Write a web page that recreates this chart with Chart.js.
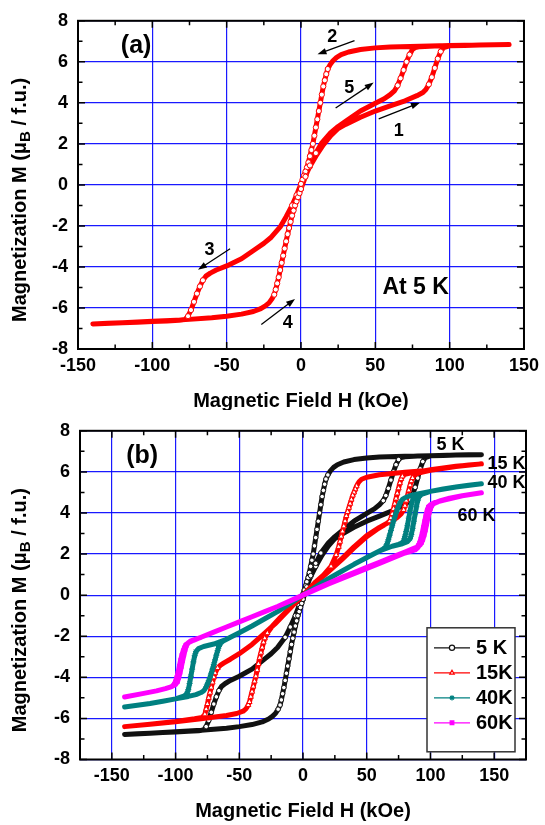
<!DOCTYPE html>
<html>
<head>
<meta charset="utf-8">
<script src="https://cdn.jsdelivr.net/npm/chart.js@4.4.1/dist/chart.umd.min.js"></script>
<style>
  body { margin: 0; background: #fff; }
  canvas { display: block; }
</style>
</head>
<body>
<canvas id="chartA" width="545" height="410"></canvas>
<canvas id="chartB" width="545" height="415"></canvas>
<script>
// tick labels
const xTicks = [-150, -100, -50, 0, 50, 100, 150];
const yTicks = [-8, -6, -4, -2, 0, 2, 4, 6, 8];
const seriesNames = ["5 K", "15K", "40K", "60K"];

// 5 K loop: branch 1 (virgin), 2, 3, 4, 5 -- same data in both panels
const h5K = [
  0, 3, 6, 10, 15, 20, 25, 30, 40, 50, 60, 70, 78, 82, 84, 86, 88, 90, 92, 94, 96, 100, 110, 120, 130, 140,
  140, 120, 100, 80, 60, 50, 40, 32, 27, 24, 21.5, 19.5, 18, 17, 16, 15, 14, 13, 12, 11, 10, 9, 8, 7, 6, 5, 4, 3, 2, 1, 0,
  0, -3, -6, -10, -14, -20, -25, -30, -40, -50, -57, -61, -64, -66, -68, -70, -72, -74, -76, -78, -82, -90, -100, -110, -120, -130, -140,
  -140, -120, -100, -80, -60, -50, -40, -32, -27, -24, -21.5, -19.5, -18, -17, -16, -15, -14, -13, -12, -11, -10, -9, -8, -7, -6, -5, -4, -3, -2, -1, 0,
  0, 3, 6, 10, 14, 20, 25, 30, 40, 50, 56, 60, 63, 65, 67, 69, 71, 73, 75, 77, 80, 90, 100, 120, 140
];
const m5K = [
  0, 0.45, 0.9, 1.4, 1.95, 2.4, 2.75, 2.95, 3.3, 3.6, 3.85, 4.1, 4.35, 4.5, 4.65, 4.9, 5.25, 5.7, 6.15, 6.5, 6.7, 6.78, 6.8, 6.82, 6.83, 6.84,
  6.84, 6.82, 6.79, 6.76, 6.72, 6.68, 6.6, 6.48, 6.35, 6.22, 6.05, 5.85, 5.65, 5.4, 5.1, 4.8, 4.4, 4.0, 3.6, 3.2, 2.8, 2.4, 2.0, 1.7, 1.4, 1.1, 0.85, 0.65, 0.45, 0.25, 0.05,
  0.05, -0.5, -1.0, -1.55, -2.05, -2.55, -2.85, -3.1, -3.6, -3.95, -4.15, -4.3, -4.45, -4.65, -4.95, -5.3, -5.7, -6.1, -6.4, -6.56, -6.6, -6.63, -6.66, -6.69, -6.72, -6.75, -6.78,
  -6.78, -6.72, -6.65, -6.58, -6.48, -6.4, -6.3, -6.17, -6.03, -5.9, -5.75, -5.55, -5.35, -5.1, -4.8, -4.5, -4.15, -3.8, -3.45, -3.1, -2.75, -2.4, -2.1, -1.8, -1.5, -1.25, -1.0, -0.8, -0.6, -0.4, -0.2,
  -0.2, 0.4, 0.95, 1.55, 2.05, 2.55, 2.85, 3.1, 3.6, 3.98, 4.2, 4.4, 4.6, 4.85, 5.2, 5.6, 6.0, 6.35, 6.6, 6.7, 6.74, 6.77, 6.79, 6.82, 6.84
];

// 15 K loop
const h15K = [
  0, 10, 20, 30, 40, 50, 60, 66, 70, 74, 77, 79, 80, 81, 82, 83, 84, 85, 86, 87, 89, 93, 100, 110, 120, 130, 140,
  140, 120, 100, 80, 60, 50, 46, 44, 43, 42, 41, 40, 39, 38, 37, 36, 35, 34, 33, 32, 31, 30, 29, 28, 26, 22, 15, 8, 0,
  0, -8, -15, -22, -30, -40, -50, -57, -62, -65, -67, -69, -70, -71, -72, -73, -74, -75, -76, -77, -79, -85, -100, -120, -140,
  -140, -120, -100, -80, -60, -52, -47, -45, -44, -43, -42, -41, -40, -39, -38, -37, -36, -35, -34, -33, -32, -31, -30, -28, -24, -18, -10, 0,
  0, 10, 20, 30, 40, 50, 58, 63, 66, 68, 69, 70, 71, 72, 73, 74, 75, 76, 77, 78, 80, 85, 90, 100, 120, 140
];
const m15K = [
  0, 0.65, 1.2, 1.75, 2.35, 2.9, 3.3, 3.5, 3.62, 3.78, 3.95, 4.15, 4.35, 4.6, 4.85, 5.1, 5.35, 5.55, 5.7, 5.8, 5.9, 5.98, 6.08, 6.18, 6.26, 6.33, 6.39,
  6.39, 6.26, 6.08, 5.98, 5.86, 5.74, 5.64, 5.52, 5.42, 5.3, 5.15, 5.0, 4.85, 4.65, 4.45, 4.25, 4.05, 3.85, 3.6, 3.35, 3.1, 2.85, 2.6, 2.35, 1.95, 1.4, 0.9, 0.5, 0,
  0, -0.5, -0.95, -1.4, -1.85, -2.4, -2.85, -3.12, -3.3, -3.42, -3.55, -3.8, -4.0, -4.25, -4.5, -4.75, -5.0, -5.3, -5.55, -5.8, -5.95, -6.02, -6.15, -6.28, -6.4,
  -6.4, -6.28, -6.16, -6.02, -5.86, -5.76, -5.65, -5.55, -5.46, -5.35, -5.2, -4.95, -4.7, -4.45, -4.2, -3.95, -3.65, -3.35, -3.05, -2.8, -2.55, -2.3, -2.1, -1.85, -1.5, -1.1, -0.6, 0,
  0, 0.6, 1.15, 1.7, 2.3, 2.85, 3.2, 3.38, 3.5, 3.6, 3.75, 3.95, 4.2, 4.45, 4.7, 4.95, 5.2, 5.45, 5.65, 5.78, 5.88, 5.95, 6.0, 6.1, 6.27, 6.39
];

// 40 K loop
const h40K = [
  0, 10, 20, 30, 40, 50, 60, 70, 78, 82, 84, 85, 86, 87, 88, 89, 90, 91, 93, 100, 110, 120, 130, 140,
  140, 120, 100, 90, 84, 80, 78, 77, 76, 75, 74, 73, 72, 71, 70, 69, 68, 67, 66, 65, 63, 60, 50, 40, 30, 20, 10, 0,
  0, -10, -20, -30, -40, -50, -60, -70, -78, -82, -84, -85, -86, -87, -88, -89, -90, -91, -93, -100, -110, -120, -130, -140,
  -140, -120, -100, -90, -84, -80, -78, -77, -76, -75, -74, -73, -72, -71, -70, -69, -68, -67, -66, -65, -63, -60, -50, -40, -30, -20, -10, 0,
  0, 20, 40, 60, 70, 75, 78, 79, 80, 81, 82, 83, 84, 85, 86, 87, 89, 93, 100, 120, 140
];
const m40K = [
  0, 0.4, 0.8, 1.15, 1.5, 1.83, 2.15, 2.38, 2.5, 2.6, 2.75, 2.95, 3.25, 3.6, 3.95, 4.3, 4.6, 4.78, 4.9, 5.05, 5.17, 5.26, 5.35, 5.42,
  5.42, 5.26, 5.05, 4.93, 4.84, 4.74, 4.66, 4.58, 4.47, 4.33, 4.17, 4.0, 3.8, 3.6, 3.38, 3.15, 2.92, 2.7, 2.5, 2.36, 2.25, 2.15, 1.83, 1.5, 1.15, 0.8, 0.4, 0,
  0, -0.4, -0.8, -1.15, -1.5, -1.83, -2.15, -2.38, -2.5, -2.6, -2.75, -2.95, -3.25, -3.6, -3.95, -4.3, -4.6, -4.78, -4.9, -5.05, -5.17, -5.27, -5.36, -5.44,
  -5.44, -5.27, -5.05, -4.93, -4.84, -4.74, -4.66, -4.58, -4.47, -4.33, -4.17, -4.0, -3.8, -3.6, -3.38, -3.15, -2.92, -2.7, -2.5, -2.36, -2.25, -2.15, -1.83, -1.5, -1.15, -0.8, -0.4, 0,
  0, 0.8, 1.5, 2.15, 2.38, 2.47, 2.55, 2.65, 2.85, 3.1, 3.4, 3.75, 4.1, 4.4, 4.62, 4.76, 4.86, 4.93, 5.05, 5.26, 5.42
];

// 60 K loop
const h60K = [
  0, 10, 20, 30, 40, 50, 60, 70, 80, 86, 90, 92, 93, 94, 95, 96, 97, 98, 99, 100, 101, 103, 108, 115, 125, 140,
  140, 125, 115, 108, 103, 100, 98.5, 97.5, 96.5, 95.5, 94.5, 93.5, 92.5, 91.5, 90, 88, 80, 70, 60, 50, 40, 30, 20, 10, 0,
  0, -10, -20, -30, -40, -50, -60, -70, -80, -86, -90, -92, -93, -94, -95, -96, -97, -98, -99, -100, -101, -103, -108, -115, -125, -140,
  -140, -125, -115, -108, -103, -100, -98.5, -97.5, -96.5, -95.5, -94.5, -93.5, -92.5, -91.5, -90, -88, -80, -70, -60, -50, -40, -30, -20, -10, 0,
  0, 20, 40, 60, 80, 86, 89, 90.5, 91.5, 92.5, 93.5, 94.5, 95.5, 96.5, 97.5, 98.5, 100, 103, 110, 125, 140
];
const m60K = [
  0, 0.3, 0.58, 0.85, 1.1, 1.35, 1.6, 1.85, 2.1, 2.25, 2.35, 2.45, 2.55, 2.7, 2.9, 3.15, 3.45, 3.75, 4.0, 4.2, 4.35, 4.47, 4.6, 4.72, 4.84, 4.98,
  4.98, 4.84, 4.72, 4.6, 4.48, 4.38, 4.25, 4.05, 3.8, 3.5, 3.2, 2.9, 2.65, 2.45, 2.3, 2.2, 2.05, 1.8, 1.55, 1.3, 1.05, 0.8, 0.55, 0.28, 0,
  0, -0.28, -0.55, -0.8, -1.05, -1.3, -1.55, -1.8, -2.05, -2.2, -2.32, -2.42, -2.55, -2.7, -2.9, -3.15, -3.45, -3.75, -4.0, -4.2, -4.33, -4.45, -4.55, -4.66, -4.78, -4.96,
  -4.96, -4.78, -4.66, -4.55, -4.45, -4.35, -4.22, -4.02, -3.78, -3.5, -3.2, -2.92, -2.66, -2.46, -2.32, -2.22, -2.05, -1.8, -1.55, -1.3, -1.05, -0.8, -0.55, -0.28, 0,
  0, 0.55, 1.05, 1.55, 2.05, 2.22, 2.32, 2.42, 2.55, 2.75, 3.0, 3.3, 3.6, 3.9, 4.15, 4.3, 4.4, 4.5, 4.62, 4.84, 4.98
];

const FONT = '"Liberation Sans", Arial, sans-serif';
const toPoints = (h, m) => h.map((x, i) => ({ x: x, y: m[i] }));

// markers only where the curve is steep, where the reference shows single symbols
function steepRadius(r) {
  return (ctx) => {
    const d = ctx.dataset.data, i = ctx.dataIndex, ch = ctx.chart;
    const sx = ch.scales.x, sy = ch.scales.y;
    const p = d[i];
    let steep = false;
    [d[i - 1], d[i + 1]].forEach((q) => {
      if (!q) return;
      const dx = Math.abs(sx.getPixelForValue(q.x) - sx.getPixelForValue(p.x));
      const dy = Math.abs(sy.getPixelForValue(q.y) - sy.getPixelForValue(p.y));
      if (dy > 2 && dy > 2 * dx) steep = true;
    });
    return steep ? r : 0;
  };
}

function loopDataset(label, h, m, color, style, fill, r, order) {
  return {
    label: label,
    data: toPoints(h, m),
    showLine: true,
    borderColor: color,
    borderWidth: 5,
    borderJoinStyle: "round",
    borderCapStyle: "round",
    pointStyle: style,
    pointRadius: steepRadius(r),
    pointBorderColor: color,
    pointBackgroundColor: fill,
    pointBorderWidth: 1,
    order: order,
  };
}

function scalesFor(xmin, xmax, yWidth, xHeight) {
  const tickFont = { family: FONT, size: 18, weight: "bold" };
  const grid = { color: "rgba(0,0,255,0.9)", lineWidth: 1.2, drawTicks: false };
  return {
    x: {
      type: "linear", min: xmin, max: xmax,
      afterBuildTicks: (s) => { s.ticks = xTicks.map((v) => ({ value: v })); },
      afterFit: (s) => { s.height = xHeight; },
      grid: grid, border: { display: false },
      ticks: { color: "#000", font: tickFont, padding: 6, maxRotation: 0, autoSkip: false },
    },
    y: {
      type: "linear", min: -8, max: 8,
      afterBuildTicks: (s) => { s.ticks = yTicks.map((v) => ({ value: v })); },
      afterFit: (s) => { s.width = yWidth; },
      grid: grid, border: { display: false },
      ticks: { color: "#000", font: tickFont, padding: 10, autoSkip: false },
    },
  };
}

// frame, inward ticks and axis titles
const framePlugin = {
  id: "frame",
  afterDraw(chart) {
    const { ctx, chartArea: a, scales: { x, y } } = chart;
    ctx.save();
    ctx.strokeStyle = "#000";
    ctx.lineWidth = 1.5;
    ctx.beginPath();
    for (let v = Math.ceil(x.min / 25) * 25; v <= x.max; v += 25) {
      const px = x.getPixelForValue(v);
      const len = v % 50 === 0 ? 7 : 4.5;
      ctx.moveTo(px, a.bottom); ctx.lineTo(px, a.bottom - len);
      ctx.moveTo(px, a.top); ctx.lineTo(px, a.top + len);
    }
    for (let v = -8; v <= 8; v += 1) {
      const py = y.getPixelForValue(v);
      const len = v % 2 === 0 ? 7 : 4.5;
      ctx.moveTo(a.left, py); ctx.lineTo(a.left + len, py);
      ctx.moveTo(a.right, py); ctx.lineTo(a.right - len, py);
    }
    ctx.stroke();
    ctx.lineWidth = 2;
    ctx.strokeRect(a.left, a.top, a.right - a.left, a.bottom - a.top);

    ctx.fillStyle = "#000";
    ctx.font = "bold 20px " + FONT;
    ctx.textAlign = "center";
    ctx.textBaseline = "alphabetic";
    ctx.fillText("Magnetic Field H (kOe)", (a.left + a.right) / 2, 407);

    // y title with subscript B
    ctx.translate(20, (a.top + a.bottom) / 2 + 15);
    ctx.rotate(-Math.PI / 2);
    ctx.textAlign = "left";
    ctx.textBaseline = "middle";
    const p1 = "Magnetization M (\u03bc", p2 = "B", p3 = " / f.u.)";
    const big = "bold 20px " + FONT, small = "bold 15px " + FONT;
    ctx.font = big;
    const w1 = ctx.measureText(p1).width, w3 = ctx.measureText(p3).width;
    ctx.font = small;
    const w2 = ctx.measureText(p2).width;
    const x0 = -(w1 + w2 + w3) / 2;
    ctx.font = big; ctx.fillText(p1, x0, 0);
    ctx.font = small; ctx.fillText(p2, x0 + w1, 6);
    ctx.font = big; ctx.fillText(p3, x0 + w1 + w2, 0);
    ctx.restore();
  },
};

function label(chart, text, hx, my, size) {
  const { ctx, scales: { x, y } } = chart;
  ctx.font = "bold " + size + "px " + FONT;
  ctx.textAlign = "center";
  ctx.textBaseline = "middle";
  ctx.fillStyle = "#000";
  ctx.fillText(text, x.getPixelForValue(hx), y.getPixelForValue(my));
}

function arrow(chart, h0, m0, h1, m1) {
  const { ctx, scales: { x, y } } = chart;
  const x0 = x.getPixelForValue(h0), y0 = y.getPixelForValue(m0);
  const x1 = x.getPixelForValue(h1), y1 = y.getPixelForValue(m1);
  const ang = Math.atan2(y1 - y0, x1 - x0);
  ctx.strokeStyle = "#000";
  ctx.fillStyle = "#000";
  ctx.lineWidth = 1.3;
  ctx.beginPath();
  ctx.moveTo(x0, y0);
  ctx.lineTo(x1 - 6 * Math.cos(ang), y1 - 6 * Math.sin(ang));
  ctx.stroke();
  ctx.beginPath();
  ctx.moveTo(x1, y1);
  ctx.lineTo(x1 - 9 * Math.cos(ang) + 3.2 * Math.sin(ang), y1 - 9 * Math.sin(ang) - 3.2 * Math.cos(ang));
  ctx.lineTo(x1 - 9 * Math.cos(ang) - 3.2 * Math.sin(ang), y1 - 9 * Math.sin(ang) + 3.2 * Math.cos(ang));
  ctx.closePath();
  ctx.fill();
}

const notesA = {
  id: "notesA",
  afterDraw(chart) {
    const ctx = chart.ctx;
    ctx.save();
    label(chart, "(a)", -110.9, 6.76, 25);
    label(chart, "At 5 K", 77.1, -5.0, 23);
    label(chart, "2", 21.1, 7.19, 18);
    label(chart, "5", 32.5, 4.71, 18);
    label(chart, "1", 65.8, 2.62, 18);
    label(chart, "3", -61.5, -3.19, 18);
    label(chart, "4", -8.9, -6.71, 18);
    arrow(chart, 36, 7.03, 11.1, 6.37);
    arrow(chart, 23.3, 3.75, 48.9, 4.99);
    arrow(chart, 52.3, 3.22, 80, 4.01);
    arrow(chart, -47.7, -3.11, -69.3, -4.14);
    arrow(chart, -26.7, -6.81, -4, -5.56);
    ctx.restore();
  },
};

const notesB = {
  id: "notesB",
  afterDraw(chart) {
    const { ctx, chartArea: a } = chart;
    ctx.save();
    label(chart, "(b)", -126.2, 6.75, 25);
    label(chart, "5 K", 115.7, 7.33, 18);
    label(chart, "15 K", 159.7, 6.37, 18);
    label(chart, "40 K", 159.7, 5.46, 18);
    label(chart, "60 K", 136.1, 3.87, 18);

    // legend box
    const bx = a.right - 99, by = a.top + 197, bw = 88, bh = 124;
    ctx.fillStyle = "#fff";
    ctx.fillRect(bx, by, bw, bh);
    ctx.strokeStyle = "#333";
    ctx.lineWidth = 1.5;
    ctx.strokeRect(bx, by, bw, bh);
    chart.data.datasets.forEach((d, i) => {
      const ly = by + 20 + 25 * i;
      ctx.strokeStyle = d.borderColor;
      ctx.lineWidth = 1.3;
      ctx.beginPath();
      ctx.moveTo(bx + 7, ly);
      ctx.lineTo(bx + 43, ly);
      ctx.stroke();
      ctx.fillStyle = d.pointBackgroundColor;
      ctx.lineWidth = 1.2;
      Chart.helpers.drawPoint(ctx, {
        pointStyle: d.pointStyle, radius: 2.6, rotation: 0, borderWidth: 1.2,
      }, bx + 25, ly);
      ctx.fillStyle = "#000";
      ctx.font = "bold 20px " + FONT;
      ctx.textAlign = "left";
      ctx.textBaseline = "middle";
      ctx.fillText(d.label, bx + 49, ly + 1);
    });
    ctx.restore();
  },
};

const common = {
  responsive: false,
  animation: false,
  plugins: { legend: { display: false }, tooltip: { enabled: false } },
};

new Chart(document.getElementById("chartA"), {
  type: "scatter",
  data: {
    datasets: [loopDataset("5 K", h5K, m5K, "#ff0000", "circle", "#fff", 2.6, 0)],
  },
  options: Object.assign({}, common, {
    layout: { padding: { top: 15, right: 17, left: 0, bottom: 0 } },
    scales: scalesFor(-150, 150, 78, 61),
  }),
  plugins: [framePlugin, notesA],
});

new Chart(document.getElementById("chartB"), {
  type: "scatter",
  data: {
    datasets: [
      loopDataset(seriesNames[0], h5K, m5K, "#111111", "circle", "#fff", 2.3, 3),
      loopDataset(seriesNames[1], h15K, m15K, "#ff0000", "triangle", "#fff", 3, 2),
      loopDataset(seriesNames[2], h40K, m40K, "#008080", "star", "#008080", 3, 1),
      loopDataset(seriesNames[3], h60K, m60K, "#ff00ff", "rect", "#ff00ff", 2.5, 0),
    ],
  },
  options: Object.assign({}, common, {
    layout: { padding: { top: 17, right: 19, left: 0, bottom: 0 } },
    scales: scalesFor(-175, 175, 80, 65.5),
  }),
  plugins: [framePlugin, notesB],
});
</script>
</body>
</html>
